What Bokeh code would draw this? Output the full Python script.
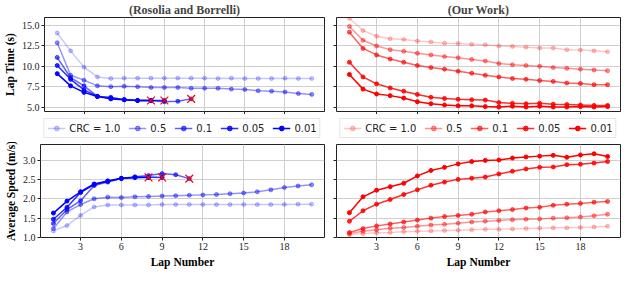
from bokeh.plotting import figure
from bokeh.layouts import column, row
from bokeh.models import (FixedTicker, PrintfTickFormatter, CustomJSTickFormatter,
                          Legend, LegendItem, Range1d)
from bokeh.embed import file_html
from bokeh.resources import INLINE

# ---------------- data ----------------
crc_labels = ["CRC = 1.0", "0.5", "0.1", "0.05", "0.01"]
x_ticks = [3, 6, 9, 12, 15, 18]
lt_ticks = [5.0, 7.5, 10.0, 12.5, 15.0]
sp_ticks = [1.0, 1.5, 2.0, 2.5, 3.0]

# Rosolia and Borrelli - lap time (s)
lt_b_10 = [14.1, 11.9, 9.9, 8.7, 8.5, 8.55, 8.55, 8.55, 8.55, 8.55, 8.55, 8.55, 8.5, 8.55, 8.5, 8.5, 8.5, 8.55, 8.5, 8.5]
lt_b_05 = [12.9, 8.9, 8.3, 7.6, 7.5, 7.55, 7.5, 7.4, 7.4, 7.4, 7.3, 7.3, 7.3, 7.2, 7.15, 7.0, 6.95, 6.85, 6.65, 6.55]
lt_b_01 = [11.1, 8.6, 7.6, 6.3, 6.2, 5.9, 5.8, 5.8, 5.65, 5.7, 6.0]
lt_b_005 = [10.1, 8.4, 7.1, 6.3, 6.1, 5.9, 5.8, 5.8, 5.8]
lt_b_001 = [9.1, 7.6, 6.8, 6.3, 6.0, 5.9, 5.8, 5.8]

# Rosolia and Borrelli - average speed (m/s)
sp_b_10 = [1.17, 1.31, 1.57, 1.79, 1.84, 1.84, 1.84, 1.84, 1.85, 1.85, 1.85, 1.85, 1.85, 1.85, 1.85, 1.85, 1.85, 1.85, 1.86, 1.86]
sp_b_05 = [1.23, 1.66, 1.85, 2.0, 2.04, 2.03, 2.05, 2.06, 2.07, 2.08, 2.09, 2.1, 2.11, 2.13, 2.15, 2.18, 2.23, 2.29, 2.33, 2.36]
sp_b_01 = [1.36, 1.72, 1.95, 2.34, 2.43, 2.52, 2.57, 2.6, 2.65, 2.62, 2.52]
sp_b_005 = [1.47, 1.78, 2.16, 2.37, 2.45, 2.52, 2.55, 2.56, 2.55]
sp_b_001 = [1.63, 1.94, 2.18, 2.38, 2.46, 2.53, 2.55, 2.55]

# Our Work - lap time (s)
lt_r_10 = [15.9, 14.4, 13.7, 13.4, 13.3, 13.1, 13.0, 12.85, 12.8, 12.7, 12.65, 12.5, 12.45, 12.35, 12.25, 12.25, 12.05, 12.0, 11.9, 11.8]
lt_r_05 = [14.9, 13.2, 12.5, 12.05, 11.85, 11.6, 11.4, 11.2, 11.05, 10.85, 10.65, 10.35, 10.2, 10.1, 10.0, 9.85, 9.75, 9.65, 9.55, 9.45]
lt_r_01 = [14.2, 12.2, 11.4, 10.9, 10.5, 10.1, 9.85, 9.65, 9.4, 9.15, 8.9, 8.7, 8.5, 8.4, 8.25, 8.15, 7.95, 7.9, 7.75, 7.75]
lt_r_005 = [10.5, 8.7, 7.85, 7.35, 6.95, 6.55, 6.2, 6.05, 5.95, 5.9, 5.85, 5.55, 5.45, 5.4, 5.45, 5.35, 5.3, 5.25, 5.2, 5.2]
lt_r_001 = [9.0, 7.2, 6.6, 6.4, 6.1, 5.65, 5.4, 5.25, 5.15, 5.15, 5.05, 5.0, 5.1, 5.0, 5.1, 5.0, 5.0, 5.05, 5.0, 5.05]

# Our Work - average speed (m/s)
sp_r_10 = [1.07, 1.1, 1.12, 1.13, 1.15, 1.16, 1.17, 1.18, 1.19, 1.2, 1.21, 1.21, 1.22, 1.23, 1.24, 1.25, 1.25, 1.26, 1.27, 1.29]
sp_r_05 = [1.1, 1.16, 1.2, 1.24, 1.26, 1.29, 1.32, 1.34, 1.37, 1.4, 1.42, 1.44, 1.46, 1.47, 1.48, 1.5, 1.51, 1.53, 1.56, 1.6]
sp_r_01 = [1.13, 1.23, 1.3, 1.35, 1.4, 1.45, 1.5, 1.54, 1.57, 1.6, 1.66, 1.69, 1.72, 1.76, 1.78, 1.83, 1.86, 1.88, 1.91, 1.93]
sp_r_005 = [1.42, 1.69, 1.86, 1.98, 2.11, 2.23, 2.35, 2.43, 2.5, 2.53, 2.56, 2.64, 2.71, 2.77, 2.81, 2.82, 2.88, 2.89, 2.92, 2.96]
sp_r_001 = [1.64, 2.05, 2.22, 2.31, 2.4, 2.59, 2.73, 2.81, 2.9, 2.96, 2.99, 3.0, 3.05, 3.08, 3.1, 3.12, 3.07, 3.13, 3.16, 3.09]

alphas = [0.22, 0.42, 0.62, 0.82, 1.0]
SERIF = "Liberation Serif"
SANS = "DejaVu Sans"


def laps(vals):
    return list(range(1, len(vals) + 1))


def make_fig(width, height, yr, yticks, title=None, ylabel=None, show_ylabels=True,
             show_xlabels=True, xlabel=None, min_left=40, min_right=2, min_top=4,
             min_bottom=2):
    p = figure(width=width, height=height, x_range=Range1d(0.05, 20.95),
               y_range=Range1d(*yr), output_backend="svg", toolbar_location=None,
               title=title)
    p.min_border_left = min_left
    p.min_border_right = min_right
    p.min_border_top = min_top
    p.min_border_bottom = min_bottom
    if title:
        p.title.text_font = SERIF
        p.title.text_font_style = "bold"
        p.title.text_font_size = "12px"
        p.title.align = "center"
        p.title.offset = 0
        p.title.standoff = 1
    p.outline_line_color = "#222222"
    p.outline_line_width = 1
    p.outline_line_alpha = 1
    p.background_fill_color = "white"
    p.border_fill_color = "white"
    for ax in (p.xaxis[0], p.yaxis[0]):
        ax.axis_line_color = None
        ax.minor_tick_line_color = None
        ax.major_tick_in = 0
        ax.major_tick_out = 3
        ax.major_tick_line_color = "#222222"
        ax.major_label_text_font = SERIF
        ax.major_label_text_font_size = "10px"
        ax.major_label_text_color = "#222222"
        ax.major_label_standoff = 2
        ax.axis_label_text_font = SERIF
        ax.axis_label_text_font_style = "bold"
        ax.axis_label_text_font_size = "11.5px"
        ax.axis_label_text_color = "black"
        ax.axis_label_standoff = 3
    p.xaxis.ticker = FixedTicker(ticks=x_ticks)
    p.yaxis.ticker = FixedTicker(ticks=yticks)
    if show_xlabels:
        p.xaxis.formatter = PrintfTickFormatter(format="%d")
    else:
        p.xaxis.formatter = CustomJSTickFormatter(code="return ''")
        p.xaxis.major_label_standoff = 0
    if show_ylabels:
        p.yaxis.formatter = PrintfTickFormatter(format="%.1f")
    else:
        p.yaxis.formatter = CustomJSTickFormatter(code="return ''")
        p.yaxis.major_label_standoff = 0
    if ylabel:
        p.yaxis.axis_label = ylabel
    if xlabel:
        p.xaxis.axis_label = xlabel
    p.xgrid.grid_line_color = "#cfcfcf"
    p.ygrid.grid_line_color = "#cfcfcf"
    p.xgrid.grid_line_width = 1
    p.ygrid.grid_line_width = 1
    return p


def draw_series(p, series, color, crosses=False):
    items = []
    for vals, a, lab in zip(series, alphas, crc_labels):
        xs = laps(vals)
        r1 = p.line(xs, vals, line_color=color, line_alpha=a, line_width=1.5)
        r2 = p.scatter(xs, vals, marker="circle", size=4, fill_color=color,
                       line_color=color, fill_alpha=a, line_alpha=a)
        items.append(LegendItem(label=lab, renderers=[r1, r2]))
    if crosses:
        ex = [len(v) for v in series if len(v) < 20]
        ey = [v[-1] for v in series if len(v) < 20]
        p.scatter(ex, ey, marker="x", size=11, line_color="red", line_width=1.2)
    return items


def legend_fig(width, series, color, min_left, min_right):
    # the series are drawn off-screen here only so that the legend has glyphs
    p = figure(width=width, height=28, x_range=Range1d(-3, -2), y_range=Range1d(-3, -2),
               output_backend="svg", toolbar_location=None)
    p.min_border_left = min_left
    p.min_border_right = min_right
    p.min_border_top = 0
    p.min_border_bottom = 0
    p.axis.visible = False
    p.grid.visible = False
    p.outline_line_color = None
    items = draw_series(p, series, color)
    leg = Legend(items=items, orientation="horizontal", location="center")
    leg.glyph_width = 18
    leg.glyph_height = 12
    leg.label_standoff = 4
    leg.label_width = 10
    leg.label_height = 12
    leg.spacing = 8
    leg.padding = 3
    leg.margin = 0
    leg.label_text_font = SANS
    leg.label_text_font_size = "10px"
    leg.label_text_color = "#222222"
    leg.border_line_color = "#cccccc"
    leg.border_line_width = 1
    leg.background_fill_color = "white"
    leg.background_fill_alpha = 1
    p.add_layout(leg, "center")
    return p


LW, RW = 326, 298
TH, BH = 114, 128

blue_lt = [lt_b_10, lt_b_05, lt_b_01, lt_b_005, lt_b_001]
blue_sp = [sp_b_10, sp_b_05, sp_b_01, sp_b_005, sp_b_001]
red_lt = [lt_r_10, lt_r_05, lt_r_01, lt_r_005, lt_r_001]
red_sp = [sp_r_10, sp_r_05, sp_r_01, sp_r_005, sp_r_001]

p1 = make_fig(LW, TH, (4.45, 16.0), lt_ticks, title="(Rosolia and Borrelli)",
              ylabel="Lap Time (s)", show_xlabels=False, min_left=40, min_right=2)
draw_series(p1, blue_lt, "blue", crosses=True)

p2 = make_fig(RW, TH, (4.45, 16.0), lt_ticks, title="(Our Work)",
              show_ylabels=False, show_xlabels=False, min_left=10, min_right=4)
draw_series(p2, red_lt, "red")

l1 = legend_fig(LW, blue_lt, "blue", 40, 2)
l2 = legend_fig(RW, red_lt, "red", 10, 4)

p3 = make_fig(LW, BH, (1.0, 3.4), sp_ticks, ylabel="Average Speed (m/s)",
              xlabel="Lap Number", min_left=40, min_right=2, min_top=2)
draw_series(p3, blue_sp, "blue", crosses=True)

p4 = make_fig(RW, BH, (1.0, 3.4), sp_ticks, show_ylabels=False,
              xlabel="Lap Number", min_left=10, min_right=4, min_top=2)
draw_series(p4, red_sp, "red")

layout = column(row(p1, p2, spacing=0), row(l1, l2, spacing=0),
                row(p3, p4, spacing=0), spacing=0)

open("out.html", "w").write(file_html(layout, INLINE))
